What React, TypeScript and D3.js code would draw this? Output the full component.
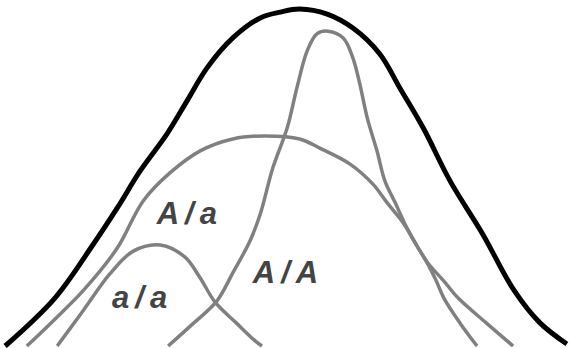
import { useEffect, useRef } from 'react';
import * as d3 from 'd3';

// trait value (0-100) and relative frequency (0-100)
const totalX = [0.9, 9.6, 16.1, 20.5, 24.5, 29.2, 32.7, 36.2, 40.7, 45.5, 49.0, 52.4, 57.2, 61.7, 66.4, 69.9, 74.0, 78.7, 84.4, 89.7, 94.4, 99.1];
const totalY = [0, 14.1, 29.4, 40.6, 51.5, 62.4, 72.1, 81.8, 90.6, 96.5, 98.2, 99.1, 97.6, 93.5, 85.9, 75.9, 64.1, 48.5, 32.9, 16.8, 6.8, 0.6];

const hetX = [4.7, 9.6, 14.5, 20.5, 25.0, 29.7, 35.0, 40.7, 46.3, 52.4, 55.9, 61.2, 65.2, 67.7, 70.5, 72.6, 74.8, 77.6, 80.1, 85.0, 89.7];
const hetY = [0, 7.9, 16.2, 28.8, 42.6, 50.9, 57.4, 60.9, 61.8, 60.9, 58.2, 53.5, 47.6, 42.1, 36.2, 30.3, 24.4, 19.1, 14.1, 6.8, 0];

const recX = [10.0, 14.5, 19.2, 23.3, 28.0, 32.3, 35.0, 37.6, 41.3, 44.6, 45.8];
const recY = [0, 10.3, 21.2, 27.9, 29.7, 26.2, 20.0, 12.9, 6.8, 1.5, 0];

const domX = [29.4, 33.7, 37.9, 40.7, 43.7, 45.5, 47.7, 50.2, 51.9, 53.7, 55.4, 57.3, 60.0, 61.7, 62.9, 64.2, 65.9, 67.3, 69.1, 70.8, 72.7, 74.7, 76.2, 77.6, 80.4, 83.4];
const domY = [0, 6.5, 13.2, 21.5, 30.9, 38.8, 52.4, 64.1, 75.9, 86.8, 91.8, 92.6, 90.6, 84.7, 77.1, 67.1, 57.4, 48.5, 42.1, 35.9, 30.0, 24.4, 19.4, 14.1, 6.8, 0];

const labelText = ['A/a', 'a/a', 'A/A'];
const labelX = [27.4, 19.6, 44.2];
const labelY = [35.9, 11.2, 18.5];

const W = 572;
const H = 348;

export default function App() {
  const svgRef = useRef<SVGSVGElement>(null);

  useEffect(() => {
    if (!svgRef.current) return;
    const svg = d3.select(svgRef.current);
    svg.selectAll('*').remove();

    const x = d3.scaleLinear().domain([0, 100]).range([0, W]);
    const y = d3.scaleLinear().domain([0, 100]).range([346, 6]);

    const line = d3.line<[number, number]>()
      .x(d => x(d[0]))
      .y(d => y(d[1]))
      .curve(d3.curveCatmullRom.alpha(0.5));

    const zip = (xs: number[], ys: number[]) => xs.map((v, i) => [v, ys[i]] as [number, number]);

    const genotypes = [
      zip(hetX, hetY),
      zip(recX, recY),
      zip(domX, domY),
    ];

    svg.selectAll('.geno')
      .data(genotypes)
      .enter()
      .append('path')
      .attr('class', 'geno')
      .attr('d', d => line(d))
      .attr('fill', 'none')
      .attr('stroke', '#808080')
      .attr('stroke-width', 3.5);

    svg.append('path')
      .attr('d', line(zip(totalX, totalY)))
      .attr('fill', 'none')
      .attr('stroke', '#000')
      .attr('stroke-width', 5);

    svg.selectAll('.label')
      .data(labelText)
      .enter()
      .append('text')
      .attr('class', 'label')
      .attr('x', (d, i) => x(labelX[i]))
      .attr('y', (d, i) => y(labelY[i]))
      .style('font-family', '"Liberation Sans", Arial, sans-serif')
      .style('font-size', '31px')
      .style('font-style', 'italic')
      .style('font-weight', 'bold')
      .style('letter-spacing', '6px')
      .attr('fill', '#444')
      .text(d => d);
  }, []);

  return (
    <svg
      ref={svgRef}
      width={W}
      height={H}
      style={{ position: 'fixed', top: 0, left: 0, background: '#fff', display: 'block' }}
    />
  );
}
